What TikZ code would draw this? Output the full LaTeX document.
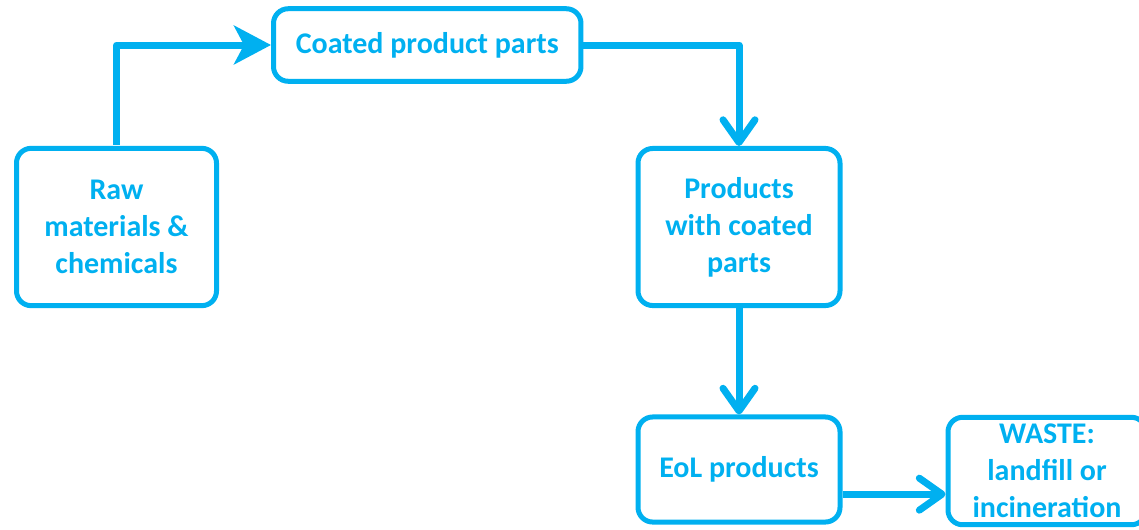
\documentclass[tikz,border=0pt]{standalone}
\usepackage{fontspec}
\setmainfont{Carlito}
\usepackage{tikz}
\usetikzlibrary{arrows.meta,positioning,calc}
\definecolor{coatblue}{HTML}{00B0F0}
\tikzset{
  stage/.style={rectangle,rounded corners=11pt,draw=coatblue,line width=3.75pt,
    text=coatblue,font=\bfseries\fontsize{22.5}{27.75}\selectfont,align=center,inner sep=0pt},
  flowarrow/.style={-{Straight Barb[length=17pt,width=24pt,round]},line width=5.25pt,
    draw=coatblue,line join=round},
  feedarrow/.style={-{Stealth[length=27.75pt,width=29pt,inset=7.5pt]},line width=5.25pt,
    draw=coatblue,line join=round},
}
\begin{document}
\begin{tikzpicture}[x=0.75pt,y=-0.75pt]
  \clip (0,0) rectangle (1139,529);
  \node[stage,minimum width=150pt,minimum height=118pt] (raw) at (116.5,227) {Raw\\materials \&\\chemicals};
  \node[stage,minimum width=230.6pt,minimum height=54.4pt] (coated) at (427.25,45) {Coated product parts};
  \node[stage,minimum width=151.5pt,minimum height=117.8pt] (products) at (739,227) {Products\\with coated\\parts};
  \node[stage,minimum width=151.5pt,minimum height=78.8pt] (eol) at (739,469.5) {EoL products};
  \node[stage,minimum width=148.5pt,minimum height=80.6pt] (waste) at (1047,471) {WASTE:\\landfill or\\incineration};
  \draw[feedarrow] ([yshift=1pt]raw.north) |- (coated.west);
  \draw[flowarrow] (coated.east) -| (products.north);
  \draw[flowarrow] (products.south) -- (eol.north);
  \draw[flowarrow] ([yshift=-18.5pt]eol.east) -- ([yshift=-18.5pt]eol.east -| waste.west);
\end{tikzpicture}
\end{document}
